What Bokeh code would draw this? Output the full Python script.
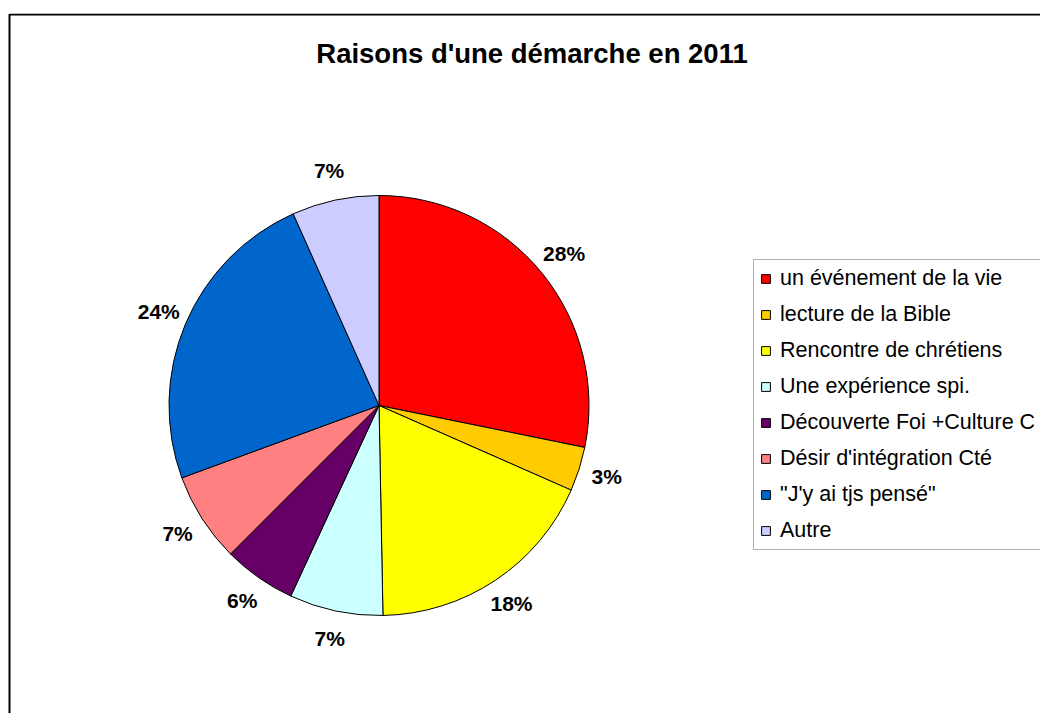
import numpy as np
from bokeh.plotting import figure
from bokeh.models import ColumnDataSource, Range1d, BoxAnnotation, Legend, LegendItem
from bokeh.core.properties import value
from bokeh.embed import file_html
from bokeh.resources import INLINE

# ---- data ----
title = "Raisons d'une démarche en 2011"
categories = [
    "un événement de la vie",
    "lecture de la Bible",
    "Rencontre de chrétiens",
    "Une expérience spi.",
    "Découverte Foi +Culture C",
    "Désir d'intégration Cté",
    "\"J'y ai tjs pensé\"",
    "Autre",
]
percents = [28.2, 3.4, 18.1, 7.2, 5.6, 6.9, 23.9, 6.7]
colors = ["#FF0000", "#FFCC00", "#FFFF00", "#CCFFFF",
          "#660066", "#FF8080", "#0066CC", "#CCCCFF"]

# ---- layout ----
W, H = 1040, 713
TOP_GAP = 13
FH = H - TOP_GAP
FONT = "Liberation Sans"
cx, cy, R = 378.5, 308.0, 210.0
R_LABEL = R + 29

vals = np.array(percents, dtype=float)
frac = vals / vals.sum()
cum_end = np.cumsum(frac)
cum_start = cum_end - frac
start = np.pi / 2 - 2 * np.pi * cum_end
end = np.pi / 2 - 2 * np.pi * cum_start
mid = 2 * np.pi * (cum_start + cum_end) / 2  # clockwise from top
lx = cx + R_LABEL * np.sin(mid)
ly = cy + R_LABEL * np.cos(mid)
labels = [f"{int(round(v))}%" for v in vals]

src = ColumnDataSource(dict(start=start, end=end, color=colors, cat=categories,
                            lx=lx, ly=ly, label=labels))

p = figure(width=W, height=H, output_backend="svg", toolbar_location=None,
           x_range=Range1d(0, W), y_range=Range1d(0, FH),
           min_border_left=0, min_border_right=0, min_border_bottom=0,
           min_border_top=TOP_GAP, x_axis_location=None, y_axis_location=None)
p.grid.visible = False
p.outline_line_color = None
p.background_fill_color = "white"
p.border_fill_color = "white"

# chart border: only left and top edges fall inside the canvas
p.add_layout(BoxAnnotation(left=9, right=W + 60, top=FH - 1, bottom=-60,
                           fill_alpha=0, fill_color=None, line_color="black",
                           line_alpha=1.0, line_width=2, level="underlay"))

r = p.wedge(x=cx, y=cy, radius=R, start_angle="start", end_angle="end",
            direction="anticlock", fill_color="color", line_color="black",
            line_width=1, source=src)

p.text(x="lx", y="ly", text="label", source=src, text_align="center",
       text_baseline="middle", text_font=value(FONT), text_font_style="bold",
       text_font_size="21px", text_color="black", y_offset=-1)

p.text(x=[531.5], y=[660], text=[title], text_align="center",
       text_baseline="alphabetic", text_font=value(FONT), text_font_style="bold",
       text_font_size="27.5px", text_color="black")

items = [LegendItem(label=c, renderers=[r], index=i) for i, c in enumerate(categories)]
legend = Legend(items=items, location=(753, 163), orientation="vertical",
                glyph_width=11, glyph_height=11, label_standoff=9,
                label_height=25, spacing=11, padding=6, margin=0,
                label_text_font=FONT, label_text_font_size="21.5px",
                label_text_color="black", border_line_color="#666666",
                border_line_width=1, background_fill_color="white",
                background_fill_alpha=1.0)
p.add_layout(legend)

open("out.html", "w").write(file_html(p, INLINE))
